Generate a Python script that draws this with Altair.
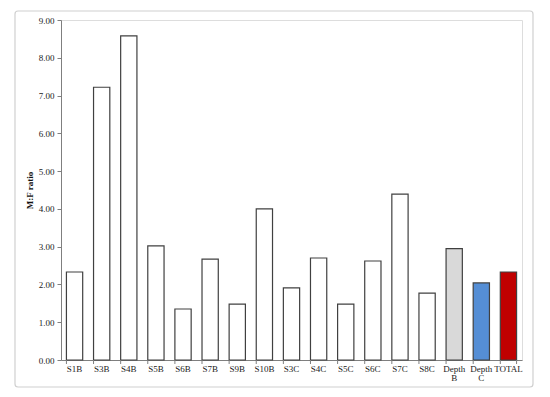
import altair as alt
import pandas as pd

categories = ["S1B", "S3B", "S4B", "S5B", "S6B", "S7B", "S9B", "S10B", "S3C", "S4C",
              "S5C", "S6C", "S7C", "S8C", "Depth B", "Depth C", "TOTAL"]
ratios = [2.33, 7.22, 8.58, 3.02, 1.35, 2.67, 1.48, 4.00, 1.91, 2.70,
          1.48, 2.62, 4.39, 1.77, 2.95, 2.04, 2.33]
fills = ["#ffffff"] * 14 + ["#d9d9d9", "#558ed5", "#c00000"]

df = pd.DataFrame({"cat": categories, "ratio": ratios, "fill": fills})

FONT = "Liberation Serif"
xscale = alt.Scale(paddingInner=0.4, paddingOuter=0.2)
xenc = alt.X("cat:N", sort=categories, scale=xscale,
             axis=alt.Axis(title=None, ticks=False, domain=True, domainColor="#7f7f7f",
                           labelAngle=0, labelFont=FONT, labelFontSize=9, labelColor="#222222",
                           labelPadding=4, labelExpr="split(datum.label, ' ')",
                           labelLineHeight=9))

bars = alt.Chart(df).mark_bar(stroke="#404040", strokeWidth=1.2).encode(
    x=xenc,
    y=alt.Y("ratio:Q", scale=alt.Scale(domain=[0, 9]),
            axis=alt.Axis(title="M:F ratio", values=list(range(10)), format=".2f",
                          grid=False, tickSize=4, tickColor="#7f7f7f", domainColor="#7f7f7f",
                          labelFont=FONT, labelFontSize=9, labelColor="#222222",
                          labelPadding=3, titleFont=FONT, titleFontSize=9,
                          titleFontWeight="bold", titlePadding=4, titleColor="#111111")),
    fill=alt.Color("fill:N", scale=None),
)

ticks = alt.Chart(df).mark_rule(color="#7f7f7f", strokeWidth=1).encode(
    x=alt.X("cat:N", sort=categories, scale=xscale, bandPosition=0),
    y=alt.value(340), y2=alt.value(344),
)
ticks_end = alt.Chart(df).transform_filter(alt.datum.cat == "TOTAL").mark_rule(
    color="#7f7f7f", strokeWidth=1).encode(
    x=alt.X("cat:N", sort=categories, scale=xscale, bandPosition=1),
    y=alt.value(340), y2=alt.value(344),
)

frame = alt.Chart(df).transform_filter(alt.datum.cat == "TOTAL").mark_rect(
    fill=None, stroke="#d0d0d0", strokeWidth=1.2, cornerRadius=3).encode(
    x=alt.value(-46), x2=alt.value(472), y=alt.value(-9), y2=alt.value(367),
)

chart = alt.layer(frame, bars, ticks, ticks_end).properties(
    width=461, height=340,
    autosize=alt.AutoSizeParams(type="none"),
    padding={"left": 53, "top": 12, "right": 20, "bottom": 30},
).configure_view(stroke=None).configure(background="white")

chart.save("out.html", embed_options={"renderer": "svg", "actions": False})
